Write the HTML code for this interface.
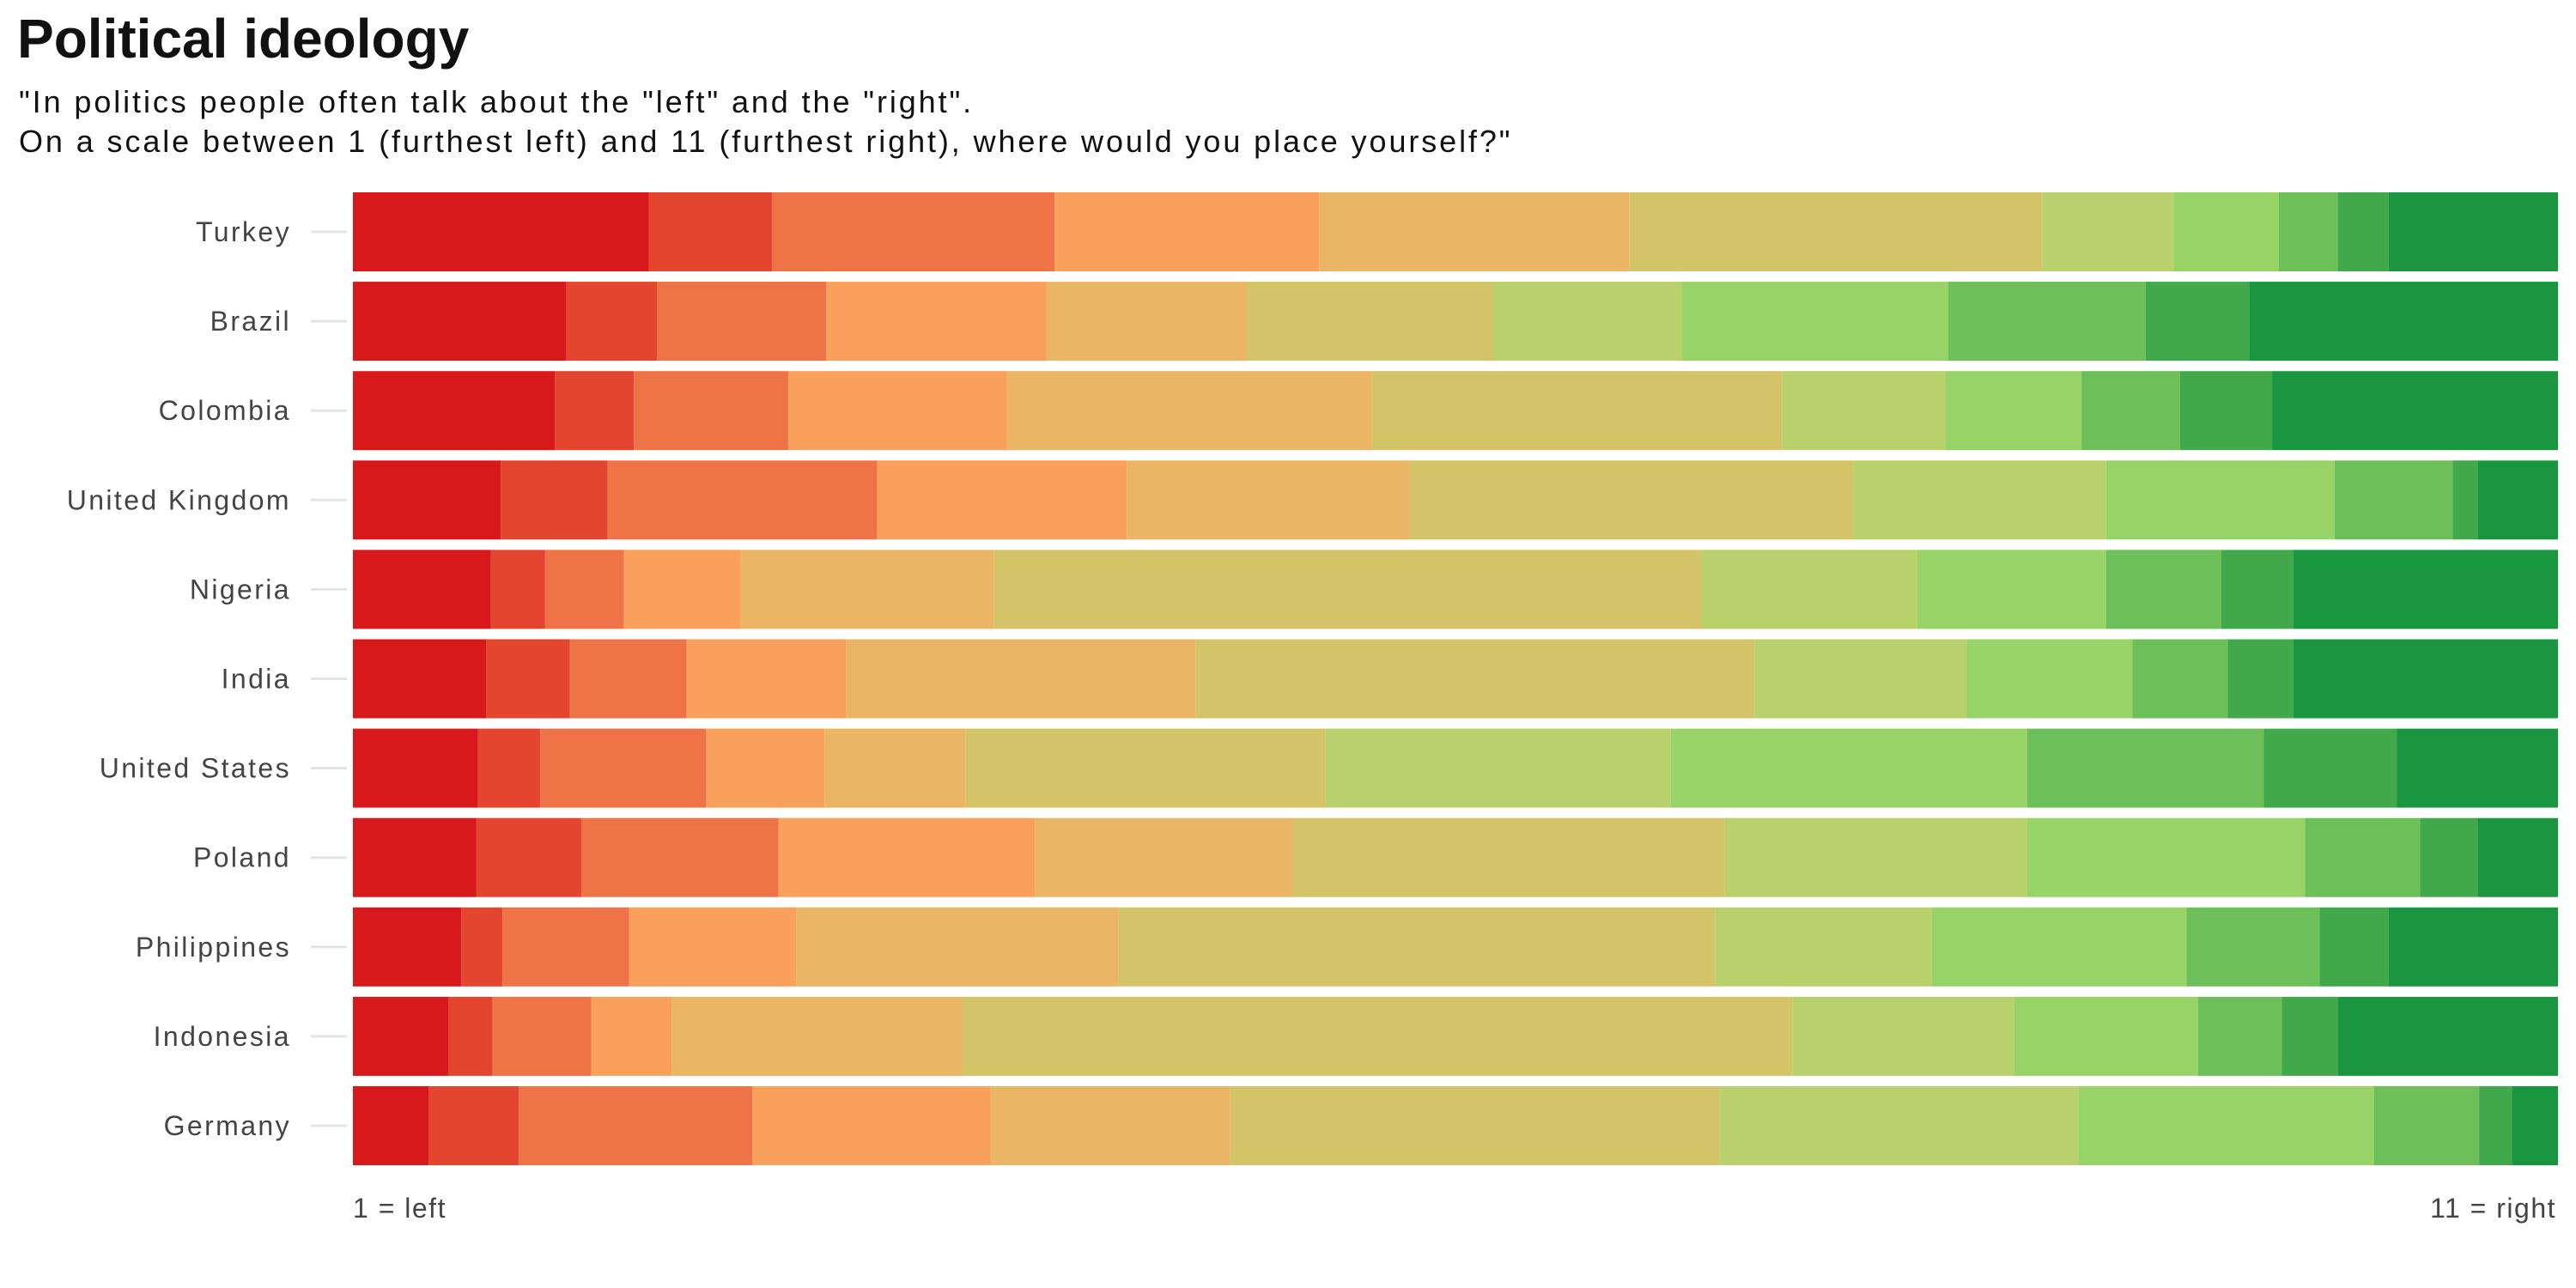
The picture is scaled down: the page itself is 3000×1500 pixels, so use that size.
<!DOCTYPE html>
<html><head><meta charset="utf-8">
<style>
html,body{margin:0;padding:0;background:#fff;}
body{width:3000px;height:1500px;position:relative;overflow:hidden;font-family:"Liberation Sans",sans-serif;}
#title{position:absolute;left:20px;top:8px;font-size:64px;font-weight:bold;color:#111;}
#subtitle{position:absolute;left:22px;top:96px;font-size:36px;letter-spacing:2.9px;line-height:46px;color:#111;white-space:nowrap;}
</style></head><body>
<div id="title">Political ideology</div>
<div id="subtitle">"In politics people often talk about the "left" and the "right".<br>On a scale between 1 (furthest left) and 11 (furthest right), where would you place yourself?"</div>
<svg id="chart" width="3000" height="1500" style="position:absolute;left:0;top:0"></svg>
<script>
const countries = ["Turkey","Brazil","Colombia","United Kingdom","Nigeria","India","United States","Poland","Philippines","Indonesia","Germany"];
const turkey = [180,75,172,161,189,251,80,64,36,31,103];
const brazil = [130,55,103,134,122,150,115,162,120,63,188];
const colombia = [123,48,94,133,222,250,99,83,60,56,174];
const uk = [90,65,164,152,172,270,154,139,72,15,49];
const nigeria = [84,33,48,71,154,431,131,115,70,44,161];
const india = [81,51,71,97,213,340,129,101,58,40,161];
const us = [76,38,101,72,86,219,210,217,144,81,98];
const poland = [75,64,120,156,157,263,184,169,70,35,49];
const philippines = [66,25,77,102,196,363,132,155,81,42,103];
const indonesia = [58,27,60,49,177,505,135,112,51,34,134];
const germany = [46,55,142,145,146,298,218,180,64,20,28];
const series = [turkey,brazil,colombia,uk,nigeria,india,us,poland,philippines,indonesia,germany];
const colors = ["#d7191c","#e3452f","#ee7448","#f9a05c","#eab565","#d3c46a","#b9d16d","#98d368","#6dbf5a","#42a84c","#1a9641"];
const axisLabels = ["1 = left","11 = right"];

const NS="http://www.w3.org/2000/svg";
const svg=document.getElementById('chart');
const X0=411, X1=2979, Y0=224, PITCH=104.1, BH=92;
function xScale(f){return X0+f*(X1-X0);}
function yRow(i){return Y0+i*PITCH;}
function mk(tag,attrs){const e=document.createElementNS(NS,tag);for(const k in attrs)e.setAttribute(k,attrs[k]);svg.appendChild(e);return e;}
countries.forEach((c,i)=>{
  const y=yRow(i);
  const tick=mk('line',{x1:362,x2:404,y1:y+BH/2,y2:y+BH/2,stroke:'#e4e4e4','stroke-width':3});
  
  
  const t=mk('text',{x:339,y:y+BH/2+11,'text-anchor':'end','font-size':32,'letter-spacing':2.4,fill:'#444','font-family':'Liberation Sans, sans-serif'});
  t.textContent=c;
  
  
  const vals=series[i];const tot=vals.reduce((a,b)=>a+b,0);
  let cum=0;
  vals.forEach((v,j)=>{
    const xa=xScale(cum/tot);cum+=v;const xb=xScale(cum/tot);
    const r=mk('rect',{x:xa,y:y,width:Math.max(0,xb-xa),height:BH,fill:colors[j]});
    
    
  });
});
const l1=mk('text',{x:X0,y:1418,'font-size':32,'letter-spacing':1.5,fill:'#444','font-family':'Liberation Sans, sans-serif'});
l1.textContent=axisLabels[0];


const l2=mk('text',{x:X1-2,y:1418,'text-anchor':'end','font-size':32,'letter-spacing':1.5,fill:'#444','font-family':'Liberation Sans, sans-serif'});
l2.textContent=axisLabels[1];


</script>
</body></html>
